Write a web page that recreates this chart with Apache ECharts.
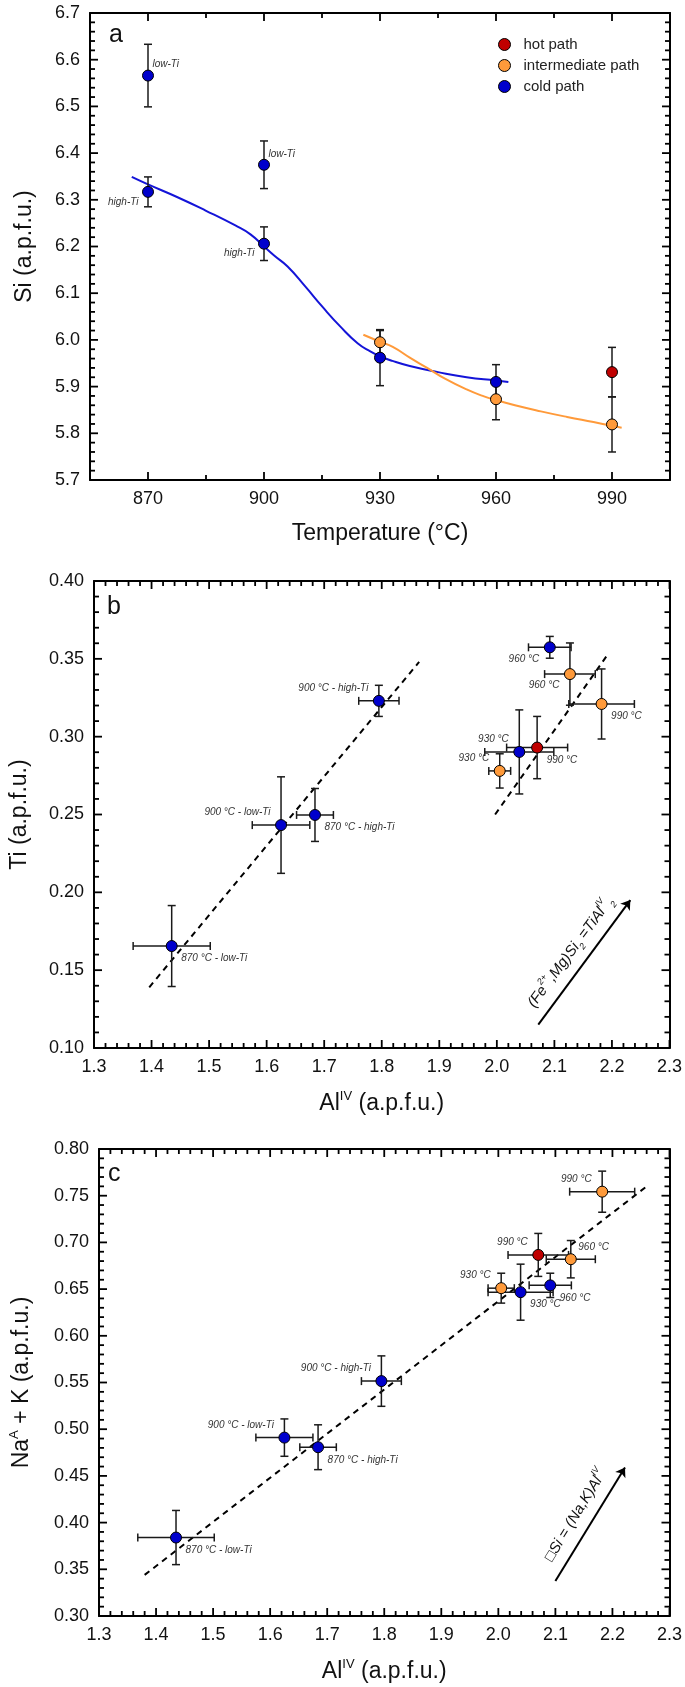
<!DOCTYPE html>
<html><head><meta charset="utf-8">
<script src="https://cdn.jsdelivr.net/npm/echarts@6/dist/echarts.min.js"></script>
<style>html,body{margin:0;padding:0;background:#fff}#c{width:685px;height:1687px}</style>
</head><body><div id="c"></div>
<script>
// ================= DATA =================
// ---- panel a : Si vs temperature ----
const aTempMin = 855, aTempMax = 1005;
const aTempLabelMin = 870, aTempLabelMax = 990;
const aTempTicks = [870, 900, 930, 960, 990];
const aSiTicks = [5.7, 5.8, 5.9, 6.0, 6.1, 6.2, 6.3, 6.4, 6.5, 6.6, 6.7];
const aColdTemp = [870, 870, 900, 900, 930, 960];
const aColdSi = [6.566, 6.317, 6.375, 6.206, 5.962, 5.910];
const aColdSiErr = [0.067, 0.032, 0.051, 0.036, 0.060, 0.037];
const aColdNote = ['low-Ti', 'high-Ti', 'low-Ti', 'high-Ti', '', ''];
const aColdNoteSide = ['nra', 'nlb', 'nra', 'nlb', '', ''];
const aInterTemp = [930, 960, 990];
const aInterSi = [5.995, 5.873, 5.819];
const aInterSiErr = [0.025, 0.044, 0.059];
const aHotTemp = [990];
const aHotSi = [5.931];
const aHotSiErr = [0.053];
const aColdCurveTemp = [865.8, 870, 877.5, 884.9, 892.6, 896.5, 900, 902.7, 906.1, 910.6, 915.2, 919.7, 924.2, 927.6, 930, 933.2, 937.7, 945.0, 952.4, 960, 963.2];
const aColdCurveSi = [6.349, 6.333, 6.306, 6.277, 6.245, 6.226, 6.200, 6.180, 6.157, 6.115, 6.070, 6.029, 5.993, 5.975, 5.965, 5.955, 5.944, 5.931, 5.920, 5.913, 5.910];
const aInterCurveTemp = [925.7, 930, 933.3, 937.7, 942.2, 946.8, 952.4, 956.9, 960, 964.9, 971.6, 978.4, 985.2, 990, 992.5];
const aInterCurveSi = [6.011, 5.996, 5.985, 5.962, 5.940, 5.917, 5.894, 5.879, 5.871, 5.860, 5.847, 5.835, 5.824, 5.816, 5.812];

// ---- panel b : Ti vs AlIV ----
const alTicks = [1.3, 1.4, 1.5, 1.6, 1.7, 1.8, 1.9, 2.0, 2.1, 2.2, 2.3];
const bTiTicks = [0.10, 0.15, 0.20, 0.25, 0.30, 0.35, 0.40];
const bColdAl = [1.435, 1.625, 1.684, 1.795, 2.039, 2.092];
const bColdAlErr = [0.067, 0.050, 0.032, 0.035, 0.060, 0.037];
const bColdTi = [0.1655, 0.2432, 0.2497, 0.323, 0.2902, 0.3574];
const bColdTiErr = [0.026, 0.031, 0.017, 0.010, 0.027, 0.007];
const bColdNote = ['870 °C - low-Ti', '900 °C - low-Ti', '870 °C - high-Ti', '900 °C - high-Ti', '930 °C', '960 °C'];
const bColdNoteSide = ['rb', 'la', 'rb', 'la', 'la', 'lb'];
const bInterAl = [2.005, 2.127, 2.182];
const bInterAlErr = [0.019, 0.044, 0.057];
const bInterTi = [0.278, 0.3402, 0.321];
const bInterTiErr = [0.011, 0.020, 0.0225];
const bInterNote = ['930 °C', '960 °C', '990 °C'];
const bInterNoteSide = ['la', 'lb', 'rb'];
const bHotAl = [2.070];
const bHotAlErr = [0.053];
const bHotTi = [0.293];
const bHotTiErr = [0.020];
const bHotNote = ['990 °C'];
const bHotNoteSide = ['rb'];
const bTrend1Al = [1.396, 1.865];
const bTrend1Ti = [0.139, 0.348];
const bTrend2Al = [1.997, 2.195];
const bTrend2Ti = [0.250, 0.354];
const bArrowAl = [2.072, 2.232];
const bArrowTi = [0.115, 0.195];

// ---- panel c : NaA+K vs AlIV ----
const cNaKTicks = [0.30, 0.35, 0.40, 0.45, 0.50, 0.55, 0.60, 0.65, 0.70, 0.75, 0.80];
const cColdAl = [1.435, 1.625, 1.684, 1.795, 2.039, 2.091];
const cColdAlErr = [0.067, 0.050, 0.032, 0.035, 0.057, 0.037];
const cColdNaK = [0.384, 0.491, 0.4807, 0.5515, 0.6467, 0.654];
const cColdNaKErr = [0.029, 0.020, 0.024, 0.027, 0.030, 0.013];
const cColdNote = ['870 °C - low-Ti', '900 °C - low-Ti', '870 °C - high-Ti', '900 °C - high-Ti', '930 °C', '960 °C'];
const cColdNoteSide = ['rb', 'la', 'rb', 'la', 'rb', 'rb'];
const cInterAl = [2.005, 2.127, 2.182];
const cInterAlErr = [0.023, 0.043, 0.057];
const cInterNaK = [0.651, 0.682, 0.7543];
const cInterNaKErr = [0.016, 0.020, 0.022];
const cInterNote = ['930 °C', '960 °C', '990 °C'];
const cInterNoteSide = ['la', 'ra', 'la'];
const cHotAl = [2.070];
const cHotAlErr = [0.053];
const cHotNaK = [0.6866];
const cHotNaKErr = [0.023];
const cHotNote = ['990 °C'];
const cHotNoteSide = ['la'];
const cTrendAl = [1.380, 2.260];
const cTrendNaK = [0.344, 0.760];
const cArrowAl = [2.100, 2.222];
const cArrowNaK = [0.3375, 0.459];

// ================= STYLE =================
const FONT = "'Liberation Sans', Arial, Helvetica, sans-serif";
const COL = { hot: '#c00000', inter: '#ff9a3a', cold: '#0000cc' };
const SYM = 11;
const SIDES = {
  nra: { dx: 5, dy: -10.5, align: 'left' },
  nlb: { dx: -9, dy: 10.5, align: 'right' },
  ra: { dx: 8, dy: -11, align: 'left' },
  rb: { dx: 10, dy: 13, align: 'left' },
  la: { dx: -10, dy: -12, align: 'right' },
  lb: { dx: -10, dy: 12, align: 'right' }
};
const GL = 90, GW = 580, GH = 467;
const GTOP = [13, 581, 1149];

function minors(ticks, n) {
  const out = [];
  for (let i = 0; i + 1 < ticks.length; i++) {
    for (let k = 1; k < n; k++) out.push(ticks[i] + (ticks[i + 1] - ticks[i]) * k / n);
  }
  return out;
}

function pts(xs, ys, notes, sides) {
  return xs.map((x, i) => {
    const it = { value: [x, ys[i]] };
    if (notes && notes[i]) {
      const sd = SIDES[sides[i]];
      it.label = { show: true, formatter: notes[i], position: [sd.dx + SYM / 2, sd.dy + SYM / 2], align: sd.align, verticalAlign: 'middle' };
    }
    return it;
  });
}

function scatter(name, color, xs, ys, notes, sides, xi, yi) {
  return {
    name, type: 'scatter', xAxisIndex: xi, yAxisIndex: yi, z: 5,
    symbol: 'circle', symbolSize: SYM,
    itemStyle: { color, borderColor: '#000', borderWidth: 1, opacity: 1 },
    label: { show: false, fontSize: 10, fontStyle: 'italic', color: '#333', fontFamily: FONT },
    data: pts(xs, ys, notes, sides)
  };
}

function errBars(xs, ys, xe, ye, xi, yi) {
  return {
    type: 'custom', xAxisIndex: xi, yAxisIndex: yi, z: 3, silent: true,
    data: xs.map((x, i) => [x, ys[i], xe ? xe[i] : 0, ye[i]]),
    renderItem(params, api) {
      const x = api.value(0), y = api.value(1), dx = api.value(2), dy = api.value(3);
      const c = api.coord([x, y]);
      const cap = 4;
      const ch = [];
      const ln = (x1, y1, x2, y2) => ch.push({ type: 'line', shape: { x1, y1, x2, y2 }, style: { stroke: '#1a1a1a', lineWidth: 1.5 } });
      if (dy) {
        const t = api.coord([x, y + dy]), b = api.coord([x, y - dy]);
        ln(c[0], t[1], c[0], b[1]);
        ln(c[0] - cap, t[1], c[0] + cap, t[1]);
        ln(c[0] - cap, b[1], c[0] + cap, b[1]);
      }
      if (dx) {
        const l = api.coord([x - dx, y]), r = api.coord([x + dx, y]);
        ln(l[0], c[1], r[0], c[1]);
        ln(l[0], c[1] - cap, l[0], c[1] + cap);
        ln(r[0], c[1] - cap, r[0], c[1] + cap);
      }
      return { type: 'group', children: ch };
    }
  };
}

// inward tick marks on all four sides of a plot, positioned through the axes' scales
function frameTicks(xi, yi, xMajor, xMinor, yMajor, yMinor) {
  return {
    type: 'custom', xAxisIndex: xi, yAxisIndex: yi, z: 10, silent: true, clip: false,
    data: [[xMajor[0], yMajor[0]]],
    renderItem(params, api) {
      const cs = params.coordSys;
      const left = cs.x, right = cs.x + cs.width, top = cs.y, bottom = cs.y + cs.height;
      const ch = [];
      const ln = (x1, y1, x2, y2) => ch.push({ type: 'line', shape: { x1, y1, x2, y2 }, style: { stroke: '#000', lineWidth: 1.8 } });
      const xt = (vals, L) => vals.forEach(v => {
        const px = api.coord([v, yMajor[0]])[0];
        ln(px, bottom, px, bottom - L); ln(px, top, px, top + L);
      });
      const yt = (vals, L) => vals.forEach(v => {
        const py = api.coord([xMajor[0], v])[1];
        ln(left, py, left + L, py); ln(right, py, right - L, py);
      });
      xt(xMajor, 8); xt(xMinor, 5); yt(yMajor, 8); yt(yMinor, 5);
      return { type: 'group', children: ch };
    }
  };
}

function curve(xs, ys, color, xi, yi) {
  return {
    type: 'line', xAxisIndex: xi, yAxisIndex: yi, z: 2, silent: true,
    data: xs.map((x, i) => [x, ys[i]]), showSymbol: false, symbol: 'none', smooth: true,
    lineStyle: { color, width: 2 }
  };
}

function seg(xs, ys, xi, yi, opt) {
  return Object.assign({
    type: 'lines', coordinateSystem: 'cartesian2d', xAxisIndex: xi, yAxisIndex: yi, z: 2, silent: true,
    data: [{ coords: [[xs[0], ys[0]], [xs[1], ys[1]]] }],
    lineStyle: { color: '#000', width: 2, opacity: 1, curveness: 0 }
  }, opt);
}

function lineSt() { return { color: '#000', width: 2 }; }
function labelSt() { return { fontSize: 18, color: '#111', fontFamily: FONT, margin: 10 }; }
function nameSt(rich) {
  const o = { fontSize: 23, color: '#111', fontFamily: FONT };
  if (rich) o.rich = {
    t: { fontSize: 23, color: '#111', fontFamily: FONT, lineHeight: 28 },
    s: { fontSize: 13, color: '#111', fontFamily: FONT, verticalAlign: 'top' }
  };
  return o;
}

function vAxis(grid, pos, min, max, interval, fmt, name, gap, rich) {
  const isMain = !!fmt;
  const o = {
    type: 'value', gridIndex: grid, position: pos, min, max, interval,
    axisLine: { show: true, onZero: false, lineStyle: lineSt() },
    axisTick: { show: false }, minorTick: { show: false },
    axisLabel: isMain ? Object.assign({ show: true, formatter: fmt }, labelSt()) : { show: false },
    splitLine: { show: false }
  };
  if (name) {
    o.name = name; o.nameLocation = 'middle'; o.nameGap = gap; o.nameTextStyle = nameSt(rich);
  }
  return o;
}

function aFrameAxis(pos) {
  return {
    type: 'value', gridIndex: 0, position: pos, min: aTempMin, max: aTempMax, interval: 15,
    axisLine: { show: true, onZero: false, lineStyle: lineSt() },
    axisTick: { show: false }, axisLabel: { show: false }, splitLine: { show: false }
  };
}
function aLabelAxis() {
  return {
    type: 'value', gridIndex: 3, position: 'bottom', min: aTempLabelMin, max: aTempLabelMax, interval: 30,
    axisLine: { show: true, onZero: false, lineStyle: { color: '#000', width: 0, opacity: 0 } },
    axisTick: { show: false },
    axisLabel: Object.assign({ show: true, formatter: v => String(v) }, labelSt()),
    splitLine: { show: false },
    name: 'Temperature (°C)', nameLocation: 'middle', nameGap: 42, nameTextStyle: nameSt(false)
  };
}

const f1 = v => v.toFixed(1);
const f2 = v => v.toFixed(2);

const xAxis = [
  aFrameAxis('bottom'),        // 0
  aFrameAxis('top'),           // 1
  aLabelAxis(),                // 2
  vAxis(1, 'bottom', 1.3, 2.3, 0.1, f1, '{t|Al}{s|IV}{t| (a.p.f.u.)}', 42, true), // 3
  vAxis(1, 'top', 1.3, 2.3, 0.1, null),   // 4
  vAxis(2, 'bottom', 1.3, 2.3, 0.1, f1, '{t|Al}{s|IV}{t| (a.p.f.u.)}', 42, true), // 5
  vAxis(2, 'top', 1.3, 2.3, 0.1, null)    // 6
];
const yAxis = [
  vAxis(0, 'left', 5.7, 6.7, 0.1, f1, 'Si (a.p.f.u.)', 54, false),  // 0
  vAxis(0, 'right', 5.7, 6.7, 0.1, null),                   // 1
  vAxis(1, 'left', 0.10, 0.40, 0.05, f2, 'Ti (a.p.f.u.)', 63, false), // 2
  vAxis(1, 'right', 0.10, 0.40, 0.05, null),                // 3
  vAxis(2, 'left', 0.30, 0.80, 0.05, f2, '{t|Na}{s|A}{t| + K (a.p.f.u.)}', 63, true), // 4
  vAxis(2, 'right', 0.30, 0.80, 0.05, null),                // 5
  { type: 'value', gridIndex: 3, min: 0, max: 1, interval: 1,
    axisLine: { show: true, lineStyle: { width: 0, opacity: 0 } }, axisTick: { show: false },
    axisLabel: { show: false }, splitLine: { show: false } } // 6 helper
];

const arrowRich = {
  n: { fontSize: 15, fontStyle: 'italic', color: '#111', fontFamily: FONT, lineHeight: 22 },
  sp: { fontSize: 9, fontStyle: 'italic', color: '#111', fontFamily: FONT, verticalAlign: 'top' },
  sb: { fontSize: 9, fontStyle: 'italic', color: '#111', fontFamily: FONT, verticalAlign: 'bottom' }
};

function arrow(xs, ys, xi, yi, text) {
  return seg(xs, ys, xi, yi, {
    symbol: ['none', 'arrow'], symbolSize: 9,
    label: { show: true, position: 'middle', distance: 6, formatter: text, rich: arrowRich, fontSize: 15, fontStyle: 'italic', color: '#111' }
  });
}
function dashed() { return { lineStyle: { color: '#000', width: 2, type: [6, 5], opacity: 1 } }; }

const series = [
  // frame ticks
  frameTicks(0, 0, aTempTicks, minors(aTempTicks, 2), aSiTicks, minors(aSiTicks, 5)),
  frameTicks(3, 2, alTicks, minors(alTicks, 5), bTiTicks, minors(bTiTicks, 5)),
  frameTicks(5, 4, alTicks, minors(alTicks, 5), cNaKTicks, minors(cNaKTicks, 5)),
  // panel a
  curve(aColdCurveTemp, aColdCurveSi, '#1414d8', 0, 0),
  curve(aInterCurveTemp, aInterCurveSi, '#ff9a3a', 0, 0),
  errBars(aColdTemp, aColdSi, null, aColdSiErr, 0, 0),
  errBars(aInterTemp, aInterSi, null, aInterSiErr, 0, 0),
  errBars(aHotTemp, aHotSi, null, aHotSiErr, 0, 0),
  scatter('cold path', COL.cold, aColdTemp, aColdSi, aColdNote, aColdNoteSide, 0, 0),
  scatter('intermediate path', COL.inter, aInterTemp, aInterSi, null, null, 0, 0),
  scatter('hot path', COL.hot, aHotTemp, aHotSi, null, null, 0, 0),
  // panel b
  seg(bTrend1Al, bTrend1Ti, 3, 2, dashed()),
  seg(bTrend2Al, bTrend2Ti, 3, 2, dashed()),
  arrow(bArrowAl, bArrowTi, 3, 2, '{n|(Fe}{sp|2+}{n|,Mg)Si}{sb|2}{n| =TiAl}{sp|IV}{sb|2}'),
  errBars(bColdAl, bColdTi, bColdAlErr, bColdTiErr, 3, 2),
  errBars(bInterAl, bInterTi, bInterAlErr, bInterTiErr, 3, 2),
  errBars(bHotAl, bHotTi, bHotAlErr, bHotTiErr, 3, 2),
  scatter('cold path', COL.cold, bColdAl, bColdTi, bColdNote, bColdNoteSide, 3, 2),
  scatter('intermediate path', COL.inter, bInterAl, bInterTi, bInterNote, bInterNoteSide, 3, 2),
  scatter('hot path', COL.hot, bHotAl, bHotTi, bHotNote, bHotNoteSide, 3, 2),
  // panel c
  seg(cTrendAl, cTrendNaK, 5, 4, dashed()),
  arrow(cArrowAl, cArrowNaK, 5, 4, '{n|□Si = (Na,K)Al}{sp|IV}'),
  errBars(cColdAl, cColdNaK, cColdAlErr, cColdNaKErr, 5, 4),
  errBars(cInterAl, cInterNaK, cInterAlErr, cInterNaKErr, 5, 4),
  errBars(cHotAl, cHotNaK, cHotAlErr, cHotNaKErr, 5, 4),
  scatter('cold path', COL.cold, cColdAl, cColdNaK, cColdNote, cColdNoteSide, 5, 4),
  scatter('intermediate path', COL.inter, cInterAl, cInterNaK, cInterNote, cInterNoteSide, 5, 4),
  scatter('hot path', COL.hot, cHotAl, cHotNaK, cHotNote, cHotNoteSide, 5, 4)
];

const pxPerDeg = GW / (aTempMax - aTempMin);
const helperGrid = {
  left: GL + (aTempLabelMin - aTempMin) * pxPerDeg,
  width: (aTempLabelMax - aTempLabelMin) * pxPerDeg,
  top: GTOP[0], height: GH
};

const chart = echarts.init(document.getElementById('c'));
chart.setOption({
  backgroundColor: '#fff',
  animation: false,
  textStyle: { fontFamily: FONT },
  grid: [
    { left: GL, width: GW, top: GTOP[0], height: GH },
    { left: GL, width: GW, top: GTOP[1], height: GH },
    { left: GL, width: GW, top: GTOP[2], height: GH },
    helperGrid
  ],
  legend: {
    orient: 'vertical', left: 493, top: 32, itemWidth: 28, itemHeight: 12, itemGap: 6,
    icon: 'circle', selectedMode: false,
    itemStyle: { borderColor: '#000', borderWidth: 1 },
    textStyle: { fontSize: 15, color: '#222', fontFamily: FONT },
    data: ['hot path', 'intermediate path', 'cold path']
  },
  graphic: [
    { type: 'text', left: 109, top: 23, style: { text: 'a', fontSize: 25, fill: '#111', fontFamily: FONT } },
    { type: 'text', left: 107, top: 595, style: { text: 'b', fontSize: 25, fill: '#111', fontFamily: FONT } },
    { type: 'text', left: 108, top: 1162, style: { text: 'c', fontSize: 25, fill: '#111', fontFamily: FONT } }
  ],
  xAxis, yAxis, series
});
</script>
</body></html>
